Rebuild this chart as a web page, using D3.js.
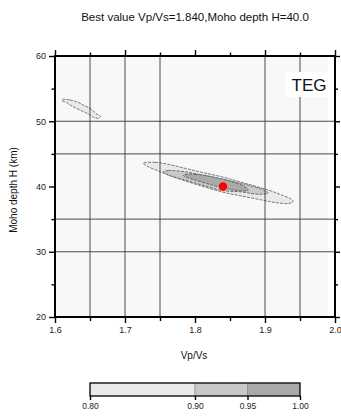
<!DOCTYPE html>
<html><head><meta charset="utf-8">
<script src="https://cdn.jsdelivr.net/npm/d3@7"></script>
<style>body{margin:0;background:#fff}svg{display:block;font-family:"Liberation Sans",Arial,sans-serif}</style>
</head><body><svg id="c" width="341" height="416"></svg>
<script>
const title = "Best value Vp/Vs=1.840,Moho depth H=40.0";
const stationName = "TEG";
const xLabel = "Vp/Vs";
const yLabel = "Moho depth H (km)";
const xDomain = [1.6, 2.0];
const yDomain = [20, 60];
const xMajorTicks = [1.6, 1.7, 1.8, 1.9, 2.0];
const xTickLabels = ["1.6", "1.7", "1.8", "1.9", "2.0"];
const xMinorTicks = [1.65, 1.75, 1.85, 1.95];
const yMajorTicks = [20, 30, 40, 50, 60];
const yTickLabels = ["20", "30", "40", "50", "60"];
const yMinorTicks = [25, 35, 45, 55];
const xGridLines = [1.65, 1.7, 1.75, 1.9, 1.95];
const yGridLines = [30, 35, 45, 50];
const gridMaxVpVs = 1.99;
const bestVpVs = 1.840, bestH = 40.0;

// contour polygons [Vp/Vs, H]
const contour80Main = [[1.7261,43.56],[1.7429,43.71],[1.7619,43.40],[1.7857,42.79],[1.8096,42.18],[1.8381,41.50],[1.8714,40.49],[1.9047,39.46],[1.9239,38.70],[1.9381,38.01],[1.9404,37.67],[1.9333,37.39],[1.9143,37.55],[1.8953,37.93],[1.8667,38.54],[1.8386,39.16],[1.8000,40.38],[1.7714,41.38],[1.7476,42.38],[1.7310,43.14]];
const contour80Blob = [[1.6114,53.36],[1.6214,53.26],[1.6310,53.00],[1.6404,52.49],[1.6500,51.98],[1.6596,51.11],[1.6650,50.73],[1.6619,50.45],[1.6547,50.61],[1.6476,51.11],[1.6357,51.72],[1.6239,52.34],[1.6167,52.84],[1.6100,53.18]];
const contour90 = [[1.7547,42.27],[1.7619,42.45],[1.7857,42.27],[1.8096,41.76],[1.8381,41.15],[1.8714,40.34],[1.8953,39.57],[1.9047,39.00],[1.8904,38.80],[1.8667,39.16],[1.8386,39.39],[1.8096,40.23],[1.7857,41.00],[1.7619,41.76]];
const contour95 = [[1.7833,41.76],[1.8000,41.87],[1.8239,41.50],[1.8524,40.74],[1.8714,39.97],[1.8761,39.46],[1.8667,39.31],[1.8476,39.62],[1.8239,40.23],[1.8000,41.00],[1.7857,41.50]];

const levels = [0.80, 0.90, 0.95, 1.00];
const levelLabels = ["0.80", "0.90", "0.95", "1.00"];
const levelColors = ["#e9e9e9", "#c8c8c8", "#a9a9a9"];
const bgColor = "#f8f8f8";

const svg = d3.select("#c");
const x = d3.scaleLinear().domain(xDomain).range([55, 335]);
const y = d3.scaleLinear().domain(yDomain).range([317, 56]);

// background
svg.append("rect").attr("x", x(xDomain[0])).attr("y", y(yDomain[1]))
  .attr("width", x(gridMaxVpVs) - x(xDomain[0])).attr("height", y(yDomain[0]) - y(yDomain[1]))
  .attr("fill", bgColor);

const line = d3.line().x(d => x(d[0])).y(d => y(d[1])).curve(d3.curveCatmullRomClosed.alpha(0.5));
const polys = [
  {pts: contour80Blob, c: levelColors[0]},
  {pts: contour80Main, c: levelColors[0]},
  {pts: contour90, c: levelColors[1]},
  {pts: contour95, c: levelColors[2]}
];
svg.append("g").selectAll("path").data(polys).join("path")
  .attr("d", d => line(d.pts)).attr("fill", d => d.c)
  .attr("stroke", "#444").attr("stroke-width", 0.7).attr("stroke-dasharray", "3,1.2");

// grid
const g = svg.append("g").attr("stroke", "#383838").attr("stroke-width", 0.9);
g.selectAll(".gx").data(xGridLines).join("line")
  .attr("x1", d => x(d)).attr("x2", d => x(d)).attr("y1", y(yDomain[0])).attr("y2", y(yDomain[1]));
g.selectAll(".gy").data(yGridLines).join("line")
  .attr("y1", d => y(d)).attr("y2", d => y(d)).attr("x1", x(xDomain[0])).attr("x2", x(xDomain[1]));

// station box
svg.append("rect").attr("x", 285).attr("y", 72).attr("width", 45).attr("height", 25).attr("fill", "#fff");
svg.append("text").attr("x", 309).attr("y", 90.5).attr("text-anchor", "middle")
  .attr("font-size", 17).attr("fill", "#111").text(stationName);

// best point
svg.append("circle").attr("cx", x(bestVpVs)).attr("cy", y(bestH)).attr("r", 4.2).attr("fill", "#ff0000");

// frame
svg.append("rect").attr("x", x(xDomain[0])).attr("y", y(yDomain[1]))
  .attr("width", x(xDomain[1]) - x(xDomain[0])).attr("height", y(yDomain[0]) - y(yDomain[1]))
  .attr("fill", "none").attr("stroke", "#000").attr("stroke-width", 2);

// axes with outward ticks
const axB = d3.axisBottom(x).tickValues(xMajorTicks).tickSize(6).tickPadding(4).tickFormat((d, i) => xTickLabels[i]);
const axBm = d3.axisBottom(x).tickValues(xMinorTicks).tickSize(4).tickFormat("");
const axT = d3.axisTop(x).tickValues(xMajorTicks).tickSize(6).tickFormat("");
const axTm = d3.axisTop(x).tickValues(xMinorTicks).tickSize(3.5).tickFormat("");
const axL = d3.axisLeft(y).tickValues(yMajorTicks).tickSize(6).tickPadding(3).tickFormat((d, i) => yTickLabels[i]);
const axLm = d3.axisLeft(y).tickValues(yMinorTicks).tickSize(3.5).tickFormat("");
const axR = d3.axisRight(y).tickValues(yMajorTicks).tickSize(5).tickFormat("");
const axRm = d3.axisRight(y).tickValues(yMinorTicks).tickSize(3).tickFormat("");
function put(ax, tr, fs) {
  const gg = svg.append("g").attr("transform", tr).call(ax);
  gg.select(".domain").remove();
  gg.selectAll("line").attr("stroke", "#000").attr("stroke-width", 1.4);
  gg.selectAll("text").attr("font-size", fs || 9).attr("fill", "#222").attr("font-family", "Liberation Sans, Arial, sans-serif");
  return gg;
}
put(axB, `translate(0,${y(yDomain[0])})`);
put(axBm, `translate(0,${y(yDomain[0])})`);
put(axT, `translate(0,${y(yDomain[1])})`);
put(axTm, `translate(0,${y(yDomain[1])})`);
put(axL, `translate(${x(xDomain[0])},0)`);
put(axLm, `translate(${x(xDomain[0])},0)`);
put(axR, `translate(${x(xDomain[1])},0)`);
put(axRm, `translate(${x(xDomain[1])},0)`);

// titles
svg.append("text").attr("x", 195).attr("y", 21).attr("text-anchor", "middle")
  .attr("font-size", 11.5).attr("fill", "#111").text(title);
svg.append("text").attr("x", 194).attr("y", 359).attr("text-anchor", "middle")
  .attr("font-size", 10).attr("fill", "#111").text(xLabel);
svg.append("text").attr("transform", "translate(17,190) rotate(-90)").attr("text-anchor", "middle")
  .attr("font-size", 10).attr("fill", "#111").text(yLabel);

// colorbar
const cx = d3.scaleLinear().domain([levels[0], levels[levels.length - 1]]).range([90, 300]);
const cb = svg.append("g");
cb.selectAll("rect").data(levelColors).join("rect")
  .attr("x", (d, i) => cx(levels[i])).attr("y", 383)
  .attr("width", (d, i) => cx(levels[i + 1]) - cx(levels[i])).attr("height", 13)
  .attr("fill", d => d).attr("stroke", "#888").attr("stroke-width", 0.6);
cb.append("rect").attr("x", cx(levels[0])).attr("y", 383)
  .attr("width", cx(levels[levels.length - 1]) - cx(levels[0])).attr("height", 13)
  .attr("fill", "none").attr("stroke", "#000").attr("stroke-width", 1.2);
const axC = d3.axisBottom(cx).tickValues(levels).tickSize(4).tickPadding(3).tickFormat((d, i) => levelLabels[i]);
put(axC, "translate(0,396)", 8.5);
</script></body></html>
